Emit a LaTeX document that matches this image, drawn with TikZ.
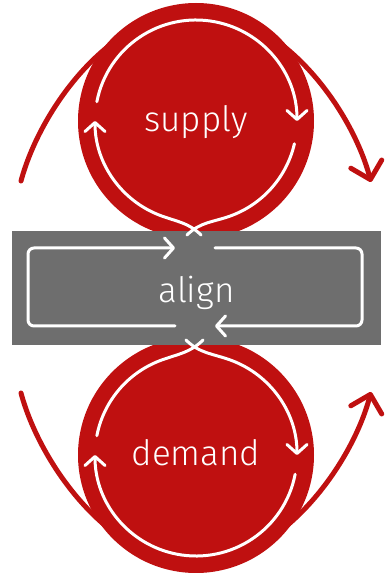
\documentclass[tikz,border=0pt]{standalone}
\usepackage{fontspec}
\setmainfont{Fira Sans Light}
\usetikzlibrary{arrows.meta}
\definecolor{loopred}{HTML}{BF1010}
\definecolor{aligngray}{HTML}{6E6E6E}
\begin{document}
\begin{tikzpicture}[
        x=1pt, y=1pt,
        bubble/.style={circle, fill=loopred, minimum size=236pt, inner sep=0pt, text=white,
            font=\fontsize{35}{40}\selectfont, text height=22pt, text depth=0pt},
        band/.style={rectangle, fill=aligngray, minimum width=369pt, minimum height=114pt, inner sep=0pt,
            text=white, font=\fontsize{35}{40}\selectfont, text height=30pt, text depth=0pt},
        outer/.style={draw=loopred, line width=5pt, line cap=round,
            -{Straight Barb[length=16pt, width=32pt, round]}},
        ring/.style={draw=white, line width=3pt, line cap=round},
        ringarrow/.style={ring, -{Straight Barb[length=9pt, width=20pt, round]}}
    ]
        \useasboundingbox (0,0) rectangle (384,574);
        % the two loops and the band between them
        \node[bubble] (supply) at (196,453) {supply};
        \node[bubble] (demand) at (196,119) {demand};
        \coordinate (supplyL) at (21,393);
        \coordinate (supplyR) at (371,392);
        \coordinate (demandL) at (21,181);
        \coordinate (demandR) at (371,182);
        \draw[outer] (supplyL) .. controls (40,464) and (110,562) .. ([yshift=-9pt]supply.north)
            .. controls (282,562) and (352,464) .. (supplyR);
        \draw[outer] (demandL) .. controls (40,110) and (110,12) .. ([yshift=9pt]demand.south)
            .. controls (282,12) and (352,110) .. (demandR);
        \node[band] (align) at (196.5,286) {align};
        % white cycle inside supply
        \draw[ringarrow] ([shift={(169:101)}]supply.center) arc[start angle=169, end angle=0, radius=101];
        \draw[ring] ([shift={(-13:101)}]supply.center) arc[start angle=-13, end angle=-70, radius=101]
            to[out=200, in=45] (187,339);
        \draw[ringarrow] (201,339) to[out=135, in=-20] ([shift={(-110:101)}]supply.center)
            arc[start angle=-110, end angle=-180, radius=101];
        % white cycle inside demand
        \draw[ring] ([shift={(169:101)}]demand.center) arc[start angle=169, end angle=110, radius=101]
            to[out=20, in=225] (203,234);
        \draw[ringarrow] (186,234) to[out=-45, in=160] ([shift={(70:101)}]demand.center)
            arc[start angle=70, end angle=0, radius=101];
        \draw[ringarrow] ([shift={(-11:101)}]demand.center) arc[start angle=-11, end angle=-180, radius=101];
        % white cycle inside align
        \draw[ringarrow, rounded corners=6pt] (215,326) -- (362,326) -- (362,248) -- (215,248);
        \draw[ringarrow, rounded corners=6pt] (175,248) -- (28,248) -- (28,326) -- (175,326);
\end{tikzpicture}
\end{document}
